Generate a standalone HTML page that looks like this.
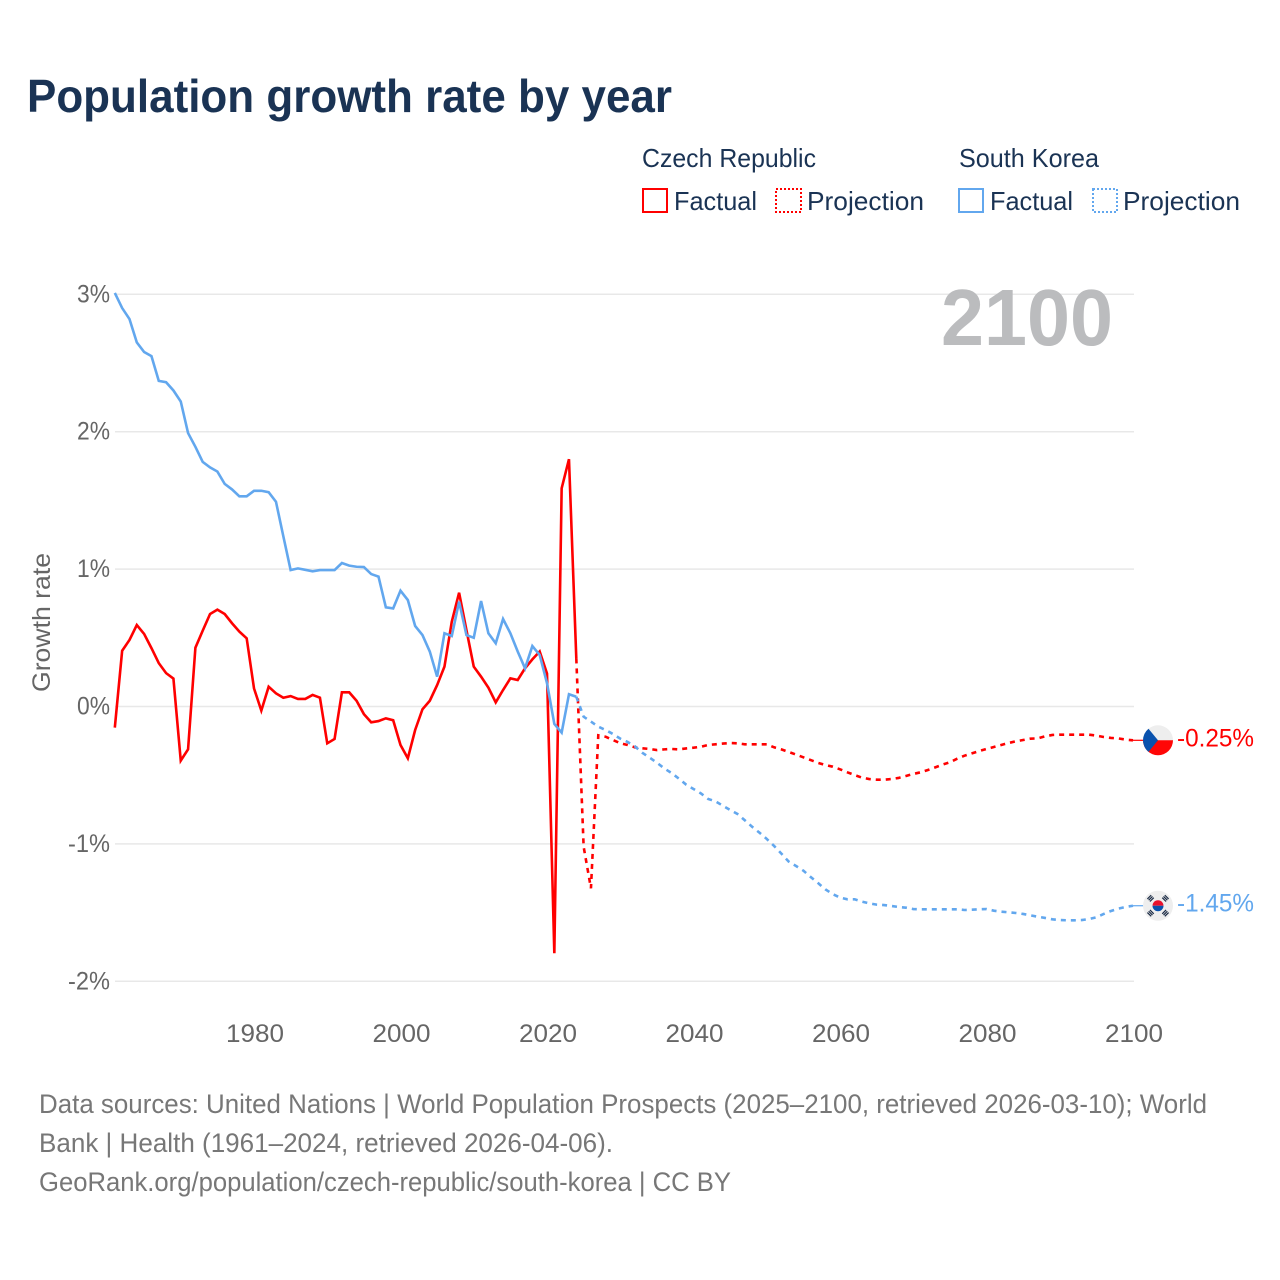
<!DOCTYPE html>
<html lang="en">
<head>
<meta charset="utf-8">
<title>Population growth rate by year</title>
<style>
html,body{margin:0;padding:0;background:#fff;}
svg{display:block;font-family:"Liberation Sans",sans-serif;}
</style>
</head>
<body>
<svg id="chart" width="1280" height="1280" viewBox="0 0 1280 1280" xmlns="http://www.w3.org/2000/svg">
  <rect x="0" y="0" width="1280" height="1280" fill="#fff"/>
  <text x="27" y="112" font-size="46" font-weight="700" fill="#1a3354" textLength="645" lengthAdjust="spacingAndGlyphs">Population growth rate by year</text>

  <g>
    <text x="642" y="167" font-size="26" fill="#1a3354" textLength="174" lengthAdjust="spacingAndGlyphs">Czech Republic</text>
    <text x="959" y="167" font-size="26" fill="#1a3354" textLength="140" lengthAdjust="spacingAndGlyphs">South Korea</text>
    <rect x="643" y="189" width="24" height="23" fill="none" stroke="#ff0000" stroke-width="2"/>
    <text x="674" y="210" font-size="26" fill="#1a3354" textLength="83" lengthAdjust="spacingAndGlyphs">Factual</text>
    <rect x="776" y="189" width="25" height="23" fill="none" stroke="#ff0000" stroke-width="2" stroke-dasharray="2 2"/>
    <text x="807" y="210" font-size="26" fill="#1a3354" textLength="117" lengthAdjust="spacingAndGlyphs">Projection</text>
    <rect x="959" y="189" width="24" height="23" fill="none" stroke="#62a7ee" stroke-width="2"/>
    <text x="990" y="210" font-size="26" fill="#1a3354" textLength="83" lengthAdjust="spacingAndGlyphs">Factual</text>
    <rect x="1093" y="189" width="24" height="23" fill="none" stroke="#62a7ee" stroke-width="2" stroke-dasharray="2 2"/>
    <text x="1123" y="210" font-size="26" fill="#1a3354" textLength="117" lengthAdjust="spacingAndGlyphs">Projection</text>
  </g>

  <g id="grid"></g>
  <text x="941" y="345" font-size="80" font-weight="700" fill="#bbbcbe" textLength="172" lengthAdjust="spacingAndGlyphs">2100</text>
  <g id="yAxis"></g>
  <g id="xAxis"></g>
  <text transform="translate(50,622.5) rotate(-90)" text-anchor="middle" font-size="25" fill="#666" textLength="139" lengthAdjust="spacingAndGlyphs">Growth rate</text>
  <g id="series"></g>
  <g id="ends"></g>

  <g font-size="26.5" fill="#777">
    <text x="39" y="1113" textLength="1168" lengthAdjust="spacingAndGlyphs">Data sources: United Nations | World Population Prospects (2025–2100, retrieved 2026-03-10); World</text>
    <text x="39" y="1152" textLength="574" lengthAdjust="spacingAndGlyphs">Bank | Health (1961–2024, retrieved 2026-04-06).</text>
    <text x="39" y="1191" textLength="692" lengthAdjust="spacingAndGlyphs">GeoRank.org/population/czech-republic/south-korea | CC BY</text>
  </g>
</svg>
<script>
const yTicks = [3, 2, 1, 0, -1, -2];
const yTickLabels = ["3%", "2%", "1%", "0%", "-1%", "-2%"];
const xTicks = [1980, 2000, 2020, 2040, 2060, 2080, 2100];
const firstFactualYear = 1961;
const firstProjectionYear = 2024;
const czechEndLabel = "-0.25%";
const koreaEndLabel = "-1.45%";

const czechFactual = [-0.154,0.406,0.484,0.593,0.528,0.425,0.316,0.243,0.203,-0.394,-0.312,0.428,0.552,0.673,0.705,0.673,0.606,0.545,0.496,0.132,-0.03,0.144,0.096,0.064,0.076,0.055,0.055,0.084,0.064,-0.268,-0.236,0.103,0.103,0.042,-0.055,-0.115,-0.106,-0.086,-0.10,-0.28,-0.377,-0.171,-0.02,0.042,0.156,0.29,0.617,0.828,0.557,0.29,0.217,0.137,0.03,0.12,0.205,0.193,0.278,0.343,0.40,0.24,-1.796,1.588,1.80,0.35];
const koreaFactual = [3.01,2.90,2.82,2.65,2.58,2.55,2.37,2.36,2.30,2.22,1.99,1.89,1.78,1.74,1.71,1.62,1.58,1.53,1.53,1.57,1.57,1.56,1.49,1.24,0.993,1.005,0.995,0.984,0.993,0.993,0.993,1.044,1.025,1.017,1.015,0.964,0.945,0.722,0.714,0.843,0.775,0.586,0.52,0.40,0.217,0.533,0.513,0.763,0.52,0.50,0.768,0.533,0.46,0.637,0.533,0.40,0.278,0.44,0.375,0.17,-0.127,-0.19,0.089,0.071];
const czechProjection = [0.35,-1.02,-1.323,-0.21,-0.22,-0.244,-0.267,-0.28,-0.297,-0.304,-0.309,-0.317,-0.312,-0.309,-0.312,-0.305,-0.30,-0.293,-0.28,-0.275,-0.27,-0.266,-0.268,-0.275,-0.275,-0.275,-0.275,-0.297,-0.312,-0.331,-0.35,-0.37,-0.39,-0.41,-0.426,-0.438,-0.457,-0.479,-0.499,-0.518,-0.528,-0.5325,-0.5325,-0.528,-0.52,-0.506,-0.491,-0.479,-0.462,-0.443,-0.423,-0.406,-0.38,-0.358,-0.341,-0.324,-0.309,-0.295,-0.28,-0.266,-0.253,-0.244,-0.234,-0.232,-0.217,-0.207,-0.205,-0.205,-0.205,-0.205,-0.205,-0.212,-0.222,-0.229,-0.232,-0.241,-0.246];
const koreaProjection = [0.071,-0.074,-0.11,-0.147,-0.171,-0.20,-0.234,-0.258,-0.29,-0.336,-0.372,-0.409,-0.45,-0.484,-0.525,-0.569,-0.60,-0.632,-0.673,-0.69,-0.722,-0.753,-0.782,-0.828,-0.875,-0.918,-0.964,-1.015,-1.071,-1.129,-1.161,-1.195,-1.241,-1.285,-1.331,-1.365,-1.391,-1.403,-1.403,-1.42,-1.433,-1.442,-1.445,-1.452,-1.459,-1.464,-1.474,-1.476,-1.476,-1.476,-1.476,-1.476,-1.476,-1.481,-1.479,-1.476,-1.474,-1.486,-1.493,-1.498,-1.503,-1.51,-1.52,-1.53,-1.539,-1.549,-1.554,-1.556,-1.556,-1.554,-1.547,-1.534,-1.51,-1.488,-1.471,-1.459,-1.45];

const NS = "http://www.w3.org/2000/svg";
const RED = "#ff0000";
const BLUE = "#62a7ee";
const xScale = function (year) { return 255 + (year - 1980) * 7.325; };
const xLine = function (year) { return xScale(year) - 1; };
const yScale = function (v) { return 706.5 - v * 137.4; };

function el(tag, attrs, parent) {
  const n = document.createElementNS(NS, tag);
  for (const k in attrs) n.setAttribute(k, attrs[k]);
  parent.appendChild(n);
  return n;
}
function linePath(values, startYear) {
  return values.map(function (v, i) {
    return (i ? "L" : "M") + xLine(startYear + i).toFixed(2) + " " + yScale(v).toFixed(2);
  }).join(" ");
}

const grid = document.getElementById("grid");
const yAxis = document.getElementById("yAxis");
yTicks.forEach(function (t, i) {
  const g = el("line", {x1: 115, x2: 1134, y1: yScale(t), y2: yScale(t), stroke: "#e8e8e8", "stroke-width": 1.5}, grid);
  
  
  const len = yTickLabels[i].length === 2 ? 33 : 42;
  const lab = el("text", {x: 110 - len, y: yScale(t) + 8, "font-size": 25, fill: "#666", textLength: len, lengthAdjust: "spacingAndGlyphs"}, yAxis);
  lab.textContent = yTickLabels[i];
  
  
});

const xAxis = document.getElementById("xAxis");
xTicks.forEach(function (t) {
  const lab = el("text", {x: xScale(t) - 29, y: 1042, "font-size": 25, fill: "#666", textLength: 58, lengthAdjust: "spacingAndGlyphs"}, xAxis);
  lab.textContent = String(t);
  
  
});

const series = document.getElementById("series");
const czF = el("path", {d: linePath(czechFactual, firstFactualYear), fill: "none", stroke: RED, "stroke-width": 2.6, "stroke-linejoin": "miter"}, series);


const czP = el("path", {d: linePath(czechProjection, firstProjectionYear), fill: "none", stroke: RED, "stroke-width": 2.6, "stroke-dasharray": "5 5"}, series);


const krF = el("path", {d: linePath(koreaFactual, firstFactualYear), fill: "none", stroke: BLUE, "stroke-width": 2.6, "stroke-linejoin": "miter"}, series);


const krP = el("path", {d: linePath(koreaProjection, firstProjectionYear), fill: "none", stroke: BLUE, "stroke-width": 2.6, "stroke-dasharray": "5 5"}, series);



const ends = document.getElementById("ends");
const cx = 1158;
const x2100 = xLine(2100);

/* Czech end marker */
const czY = yScale(czechProjection[czechProjection.length - 1]);
const czLead = el("line", {x1: x2100, x2: cx - 14, y1: czY, y2: czY, stroke: RED, "stroke-width": 1.2}, ends);


const czFlag = el("g", {transform: "translate(" + cx + "," + czY + ")"}, ends);


el("circle", {r: 15, fill: "#eeeeee"}, czFlag);
el("path", {d: "M-15 0 A15 15 0 0 0 15 0 Z", fill: "#ff0606"}, czFlag);
el("path", {d: "M-9.5 -11.6 L0 0 L-9.5 11.6 A15 15 0 0 1 -9.5 -11.6 Z", fill: "#0a52ad"}, czFlag);
const czLab = el("text", {x: 1177, y: czY + 6, "font-size": 25, fill: RED, textLength: 77, lengthAdjust: "spacingAndGlyphs"}, ends);
czLab.textContent = czechEndLabel;



/* Korea end marker */
const krY = yScale(koreaProjection[koreaProjection.length - 1]);
const krLead = el("line", {x1: x2100, x2: cx - 14, y1: krY, y2: krY, stroke: BLUE, "stroke-width": 1.2}, ends);


const krFlag = el("g", {transform: "translate(" + cx + "," + krY + ")"}, ends);


el("circle", {r: 15, fill: "#eeeeee"}, krFlag);
el("path", {d: "M-5.5 0 A5.5 5.5 0 0 1 5.5 0 Z", fill: "#e8112d"}, krFlag);
el("path", {d: "M-5.5 0 A5.5 5.5 0 0 0 5.5 0 Z", fill: "#0a52ad"}, krFlag);
[45, 135, 225, 315].forEach(function (a) {
  const tri = el("g", {transform: "rotate(" + a + ") translate(0,-10.5)"}, krFlag);
  el("rect", {x: -2.7, y: -2.4, width: 5.4, height: 1.2, fill: "#1a2a44"}, tri);
  el("rect", {x: -2.7, y: -0.6, width: 5.4, height: 1.2, fill: "#1a2a44"}, tri);
  el("rect", {x: -2.7, y: 1.2, width: 5.4, height: 1.2, fill: "#1a2a44"}, tri);
});
const krLab = el("text", {x: 1177, y: krY + 6, "font-size": 25, fill: BLUE, textLength: 77, lengthAdjust: "spacingAndGlyphs"}, ends);
krLab.textContent = koreaEndLabel;


</script>
</body>
</html>
